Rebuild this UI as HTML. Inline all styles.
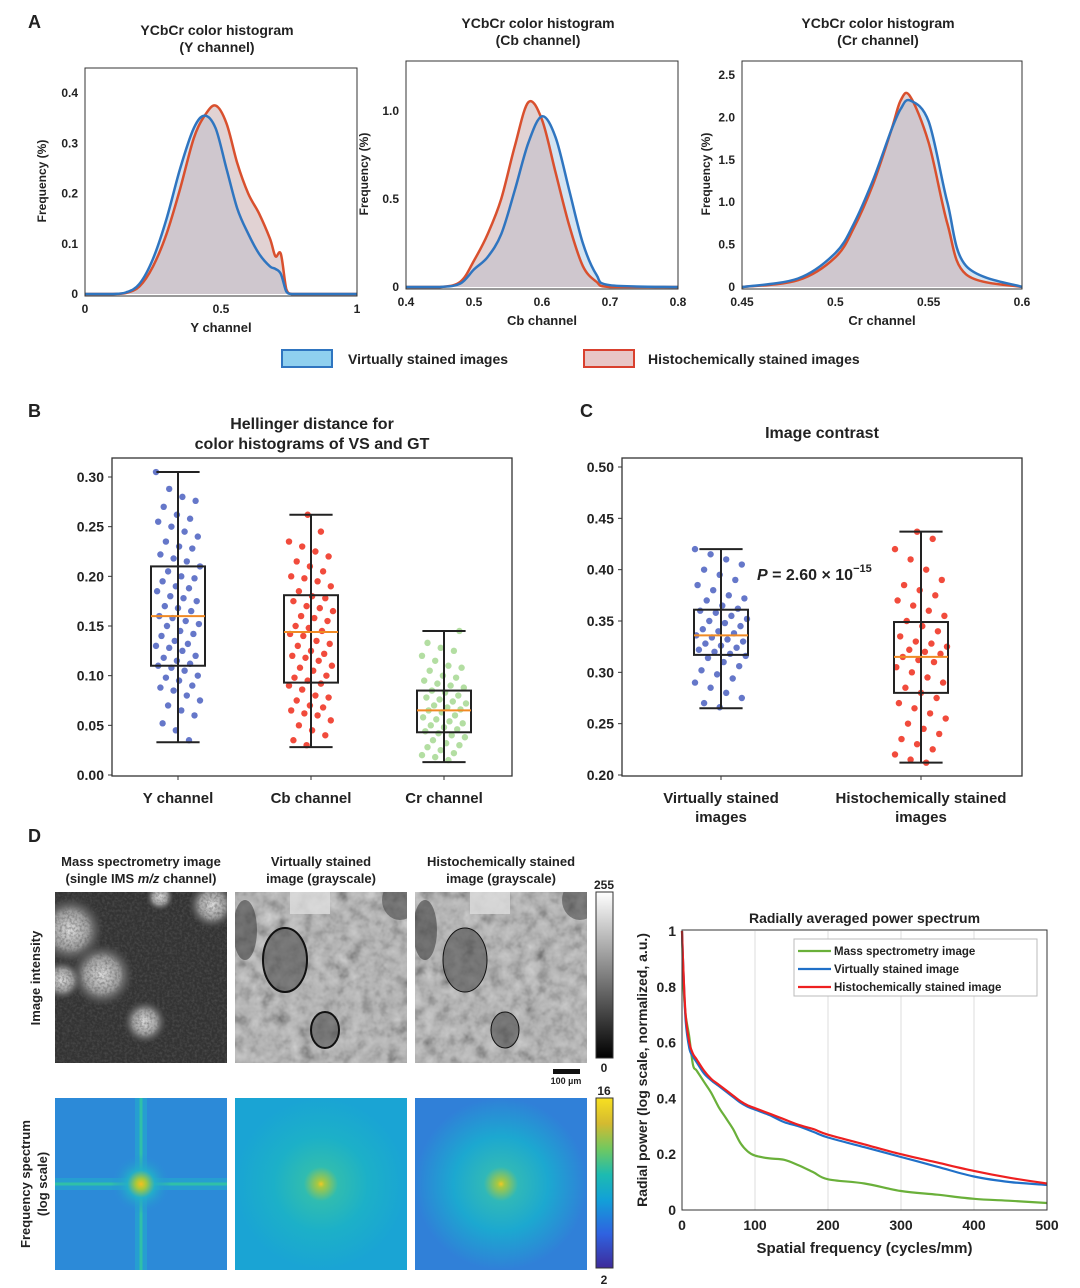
<!DOCTYPE html>
<html><head><meta charset="utf-8"><style>
body{margin:0;background:#fff;}
svg{display:block;font-family:"Liberation Sans",Arial,sans-serif;}
text{font-weight:bold;fill:#222;}
</style></head><body>
<svg id="fig" width="1080" height="1288" viewBox="0 0 1080 1288" xmlns="http://www.w3.org/2000/svg">
<defs>
<filter id="noiseMS" x="0" y="0" width="100%" height="100%"><feTurbulence type="fractalNoise" baseFrequency="0.4" numOctaves="2" seed="3"/><feColorMatrix type="matrix" values="0 0 0 0 0.1 0 0 0 0 0.1 0 0 0 0 0.1 1.2 0 0 0 -0.45"/></filter>
<filter id="tissue" x="0" y="0" width="100%" height="100%"><feTurbulence type="fractalNoise" baseFrequency="0.08" numOctaves="3" seed="7"/><feColorMatrix type="matrix" values="0.33 0.33 0.33 0 0 0.33 0.33 0.33 0 0 0.33 0.33 0.33 0 0 0 0 0 0 1"/><feComponentTransfer><feFuncR type="table" tableValues="0.0 0.2 0.45 0.62 0.8"/><feFuncG type="table" tableValues="0.0 0.2 0.45 0.62 0.8"/><feFuncB type="table" tableValues="0.0 0.2 0.45 0.62 0.8"/></feComponentTransfer></filter>
<radialGradient id="blob"><stop offset="0" stop-color="#e0e0e0"/><stop offset="0.55" stop-color="#b0b0b0" stop-opacity="0.85"/><stop offset="1" stop-color="#555" stop-opacity="0"/></radialGradient>
<radialGradient id="fft1" r="0.5"><stop offset="0" stop-color="#f4c020"/><stop offset="0.06" stop-color="#a8c83a"/><stop offset="0.16" stop-color="#22b0c8" stop-opacity="0.9"/><stop offset="0.35" stop-color="#2a8ad8" stop-opacity="0"/></radialGradient>
<radialGradient id="fft2"><stop offset="0" stop-color="#f0c828"/><stop offset="0.04" stop-color="#a8c840"/><stop offset="0.2" stop-color="#30bcb0"/><stop offset="0.55" stop-color="#1cb0c8"/><stop offset="1" stop-color="#1aa4d4"/></radialGradient>
<radialGradient id="fft3"><stop offset="0" stop-color="#f0c828"/><stop offset="0.04" stop-color="#a8c840"/><stop offset="0.2" stop-color="#30b8b8"/><stop offset="0.55" stop-color="#1ca8d0"/><stop offset="1" stop-color="#3080d8"/></radialGradient>
<linearGradient id="grayBar" x1="0" y1="1" x2="0" y2="0"><stop offset="0" stop-color="#000"/><stop offset="1" stop-color="#fff"/></linearGradient>
<linearGradient id="parula" x1="0" y1="1" x2="0" y2="0"><stop offset="0" stop-color="#3e2b9a"/><stop offset="0.2" stop-color="#2f62e0"/><stop offset="0.4" stop-color="#12a0d8"/><stop offset="0.55" stop-color="#1dbbb0"/><stop offset="0.7" stop-color="#70c860"/><stop offset="0.85" stop-color="#d4ba30"/><stop offset="1" stop-color="#f8e020"/></linearGradient>
<clipPath id="clip0"><rect x="55" y="892" width="172" height="171"/></clipPath>
<clipPath id="clip1"><rect x="235" y="892" width="172" height="171"/></clipPath>
<clipPath id="clip2"><rect x="415" y="892" width="172" height="171"/></clipPath>
</defs>
<g id="root"></g>
</svg>
<script>
// ---------- Panel A data ----------
const yX = [0,0.1,0.15,0.2,0.25,0.3,0.35,0.4,0.44,0.48,0.52,0.56,0.6,0.64,0.68,0.7,0.72,0.74,0.76,0.8,1];
const yVS = [0,0,0.003,0.02,0.07,0.15,0.25,0.33,0.355,0.33,0.25,0.17,0.12,0.08,0.055,0.05,0.04,0.005,0,0,0];
const yHC = [0,0,0.002,0.015,0.055,0.12,0.21,0.31,0.355,0.375,0.34,0.26,0.2,0.16,0.11,0.075,0.08,0.01,0,0,0];
const cbX = [0.4,0.45,0.48,0.5,0.52,0.54,0.56,0.58,0.6,0.62,0.64,0.66,0.68,0.7,0.8];
const cbVS = [0,0,0.02,0.1,0.17,0.3,0.55,0.82,0.97,0.85,0.55,0.25,0.07,0.01,0];
const cbHC = [0,0,0.03,0.15,0.3,0.5,0.8,1.05,0.95,0.65,0.35,0.12,0.03,0,0];
const crX = [0.45,0.48,0.5,0.51,0.52,0.53,0.535,0.54,0.55,0.56,0.57,0.6];
const crVS = [0,0.1,0.4,0.75,1.25,1.85,2.1,2.2,1.95,1.0,0.25,0];
const crHC = [0,0.08,0.35,0.7,1.2,1.85,2.2,2.25,1.7,0.75,0.15,0];
const yXTicks = [0,0.5,1], yXLabels = ["0","0.5","1"];
const yYTicks = [0,0.1,0.2,0.3,0.4], yYLabels = ["0","0.1","0.2","0.3","0.4"];
const cbXTicks = [0.4,0.5,0.6,0.7,0.8], cbXLabels = ["0.4","0.5","0.6","0.7","0.8"];
const cbYTicks = [0,0.5,1.0], cbYLabels = ["0","0.5","1.0"];
const crXTicks = [0.45,0.5,0.55,0.6], crXLabels = ["0.45","0.5","0.55","0.6"];
const crYTicks = [0,0.5,1.0,1.5,2.0,2.5], crYLabels = ["0","0.5","1.0","1.5","2.0","2.5"];
// ---------- Panel B data ----------
const bCats = ["Y channel","Cb channel","Cr channel"];
const bYvals = [0.305,0.288,0.28,0.276,0.27,0.262,0.258,0.255,0.25,0.245,0.24,0.235,0.23,0.228,0.222,0.218,0.215,0.21,0.205,0.2,0.198,0.195,0.19,0.188,0.185,0.18,0.178,0.175,0.17,0.168,0.165,0.16,0.158,0.155,0.152,0.15,0.145,0.142,0.14,0.135,0.132,0.13,0.128,0.125,0.12,0.118,0.115,0.112,0.11,0.108,0.105,0.1,0.098,0.095,0.09,0.088,0.085,0.08,0.075,0.07,0.065,0.06,0.052,0.045,0.035];
const bCbvals = [0.262,0.245,0.235,0.23,0.225,0.22,0.215,0.21,0.205,0.2,0.198,0.195,0.19,0.185,0.18,0.178,0.175,0.17,0.168,0.165,0.16,0.158,0.155,0.15,0.148,0.145,0.142,0.14,0.135,0.132,0.13,0.125,0.122,0.12,0.118,0.115,0.11,0.108,0.105,0.1,0.098,0.095,0.092,0.09,0.086,0.08,0.078,0.075,0.07,0.068,0.065,0.062,0.06,0.055,0.05,0.045,0.04,0.035,0.03];
const bCrvals = [0.145,0.133,0.128,0.125,0.12,0.115,0.11,0.108,0.105,0.1,0.098,0.095,0.092,0.09,0.088,0.085,0.083,0.08,0.078,0.076,0.074,0.072,0.07,0.068,0.066,0.065,0.063,0.06,0.058,0.056,0.054,0.052,0.05,0.048,0.046,0.044,0.042,0.04,0.038,0.035,0.032,0.03,0.028,0.025,0.022,0.02,0.018,0.015];
const bStats = [[0.033,0.11,0.16,0.21,0.305],[0.028,0.093,0.144,0.181,0.262],[0.013,0.043,0.065,0.085,0.145]];
const bTicks = [0,0.05,0.10,0.15,0.20,0.25,0.30];
// ---------- Panel C data ----------
const cCats = [["Virtually stained","images"],["Histochemically stained","images"]];
const cVSvals = [0.42,0.415,0.41,0.405,0.4,0.395,0.39,0.385,0.38,0.375,0.372,0.37,0.365,0.362,0.36,0.358,0.355,0.352,0.35,0.348,0.345,0.342,0.34,0.338,0.336,0.334,0.332,0.33,0.328,0.326,0.324,0.322,0.32,0.318,0.316,0.314,0.31,0.306,0.302,0.298,0.294,0.29,0.285,0.28,0.275,0.27,0.266];
const cHCvals = [0.437,0.43,0.42,0.41,0.4,0.39,0.385,0.38,0.375,0.37,0.365,0.36,0.355,0.35,0.345,0.34,0.335,0.33,0.328,0.325,0.322,0.32,0.318,0.315,0.312,0.31,0.305,0.3,0.295,0.29,0.285,0.28,0.275,0.27,0.265,0.26,0.255,0.25,0.245,0.24,0.235,0.23,0.225,0.22,0.215,0.212];
const cStats = [[0.265,0.317,0.336,0.361,0.42],[0.212,0.28,0.315,0.349,0.437]];
const cTicks = [0.20,0.25,0.30,0.35,0.40,0.45,0.50];
// ---------- Panel D spectrum data ----------
const dX = [0,2,5,10,15,20,30,40,50,60,70,80,90,100,120,140,160,180,200,250,300,350,400,450,500];
const dHC = [1,0.85,0.7,0.6,0.56,0.54,0.5,0.47,0.45,0.43,0.41,0.39,0.375,0.365,0.345,0.325,0.305,0.29,0.27,0.235,0.2,0.17,0.14,0.115,0.095];
const dVS = [1,0.85,0.68,0.58,0.55,0.53,0.49,0.465,0.445,0.425,0.405,0.385,0.37,0.36,0.34,0.315,0.3,0.28,0.26,0.225,0.19,0.155,0.12,0.1,0.09];
const dMS = [1,0.8,0.7,0.62,0.52,0.5,0.46,0.42,0.37,0.33,0.29,0.24,0.21,0.195,0.185,0.18,0.16,0.135,0.11,0.095,0.068,0.055,0.04,0.033,0.025];
const dXTicks = [0,100,200,300,400,500], dYTicks = [0,0.2,0.4,0.6,0.8,1];

const NS="http://www.w3.org/2000/svg";
const root=document.getElementById('root');
function el(tag,attrs,parent,txt){const e=document.createElementNS(NS,tag);for(const k in attrs)e.setAttribute(k,attrs[k]);if(txt!==undefined)e.textContent=txt;(parent||root).appendChild(e);return e;}
function lin(d0,d1,r0,r1){return v=>r0+(v-d0)/(d1-d0)*(r1-r0);}
function smooth(pts,ymaxPix){
  let d='M'+pts[0][0].toFixed(1)+','+pts[0][1].toFixed(1);
  for(let i=0;i<pts.length-1;i++){
    const p0=pts[Math.max(0,i-1)],p1=pts[i],p2=pts[i+1],p3=pts[Math.min(pts.length-1,i+2)];
    let c1x=p1[0]+(p2[0]-p0[0])/6,c1y=p1[1]+(p2[1]-p0[1])/6,c2x=p2[0]-(p3[0]-p1[0])/6,c2y=p2[1]-(p3[1]-p1[1])/6;
    if(ymaxPix!==undefined){c1y=Math.min(c1y,ymaxPix);c2y=Math.min(c2y,ymaxPix);}
    d+='C'+c1x.toFixed(1)+','+c1y.toFixed(1)+' '+c2x.toFixed(1)+','+c2y.toFixed(1)+' '+p2[0].toFixed(1)+','+p2[1].toFixed(1);
  }
  return d;
}

[["A",28,28],["B",28,417],["C",580,417],["D",28,842]].forEach(p=>{const t=el('text',{x:p[1],y:p[2],'font-size':18},root,p[0]);

});

// ---------- Panel A ----------
function histPlot(cfg){
  const g=el('g',{});
  
  
  const sx=lin(cfg.xd[0],cfg.xd[1],cfg.x0,cfg.x1), sy=lin(0,cfg.ymax,cfg.yb,cfg.ytop);
  function path(xs,ys,close){const pts=xs.map((x,i)=>[sx(x),sy(ys[i])]);let d=smooth(pts,cfg.yb);if(close)d+='L'+sx(xs[xs.length-1])+','+sy(0)+'L'+sx(xs[0])+','+sy(0)+'Z';return d;}
  const fv=el('path',{d:path(cfg.xs,cfg.vs,true),fill:'rgba(175,205,232,0.55)'},g);
  
  
  const fh=el('path',{d:path(cfg.xs,cfg.hc,true),fill:'rgba(205,180,182,0.6)'},g);
  
  
  const lh=el('path',{d:path(cfg.xs,cfg.hc,false),fill:'none',stroke:'#d9502e','stroke-width':2.5,'stroke-linejoin':'round'},g);
  
  
  const lv=el('path',{d:path(cfg.xs,cfg.vs,false),fill:'none',stroke:'#2f75c0','stroke-width':2.5,'stroke-linejoin':'round'},g);
  
  
  const fr=el('rect',{x:cfg.x0,y:cfg.ftop,width:cfg.x1-cfg.x0,height:cfg.yb+2-cfg.ftop,fill:'none',stroke:'#333','stroke-width':1},g);
  
  
  cfg.xt.forEach((v,i)=>{const t=el('text',{x:sx(v),y:cfg.yb+19,'font-size':12,'text-anchor':'middle'},g,cfg.xl[i]);
    
    });
  cfg.yt.forEach((v,i)=>{const t=el('text',{x:cfg.x0-7,y:sy(v)+4,'font-size':12,'text-anchor':'end'},g,cfg.yl[i]);
    
    });
  const xl=el('text',{x:(cfg.x0+cfg.x1)/2,y:cfg.yb+38,'font-size':13,'text-anchor':'middle'},g,cfg.xlabel);
  
  
  const yl=el('text',{x:0,y:0,'font-size':12,'text-anchor':'middle',transform:`translate(${cfg.ylx},${(cfg.ftop+cfg.yb)/2}) rotate(-90)`},g,'Frequency (%)');
  
  
  const t1=el('text',{x:(cfg.x0+cfg.x1)/2-4,y:cfg.ftop-33,'font-size':14,'text-anchor':'middle'},g,'YCbCr color histogram');
  
  
  const t2=el('text',{x:(cfg.x0+cfg.x1)/2-4,y:cfg.ftop-16,'font-size':14,'text-anchor':'middle'},g,cfg.sub);
  
  
}
histPlot({name:'y-channel-histogram',x0:85,x1:357,xd:[0,1],ftop:68,yb:294,ytop:93,ymax:0.4,xs:yX,vs:yVS,hc:yHC,xt:yXTicks,xl:yXLabels,yt:yYTicks,yl:yYLabels,xlabel:'Y channel',sub:'(Y channel)',ylx:46});
histPlot({name:'cb-channel-histogram',x0:406,x1:678,xd:[0.4,0.8],ftop:61,yb:287,ytop:111,ymax:1.0,xs:cbX,vs:cbVS,hc:cbHC,xt:cbXTicks,xl:cbXLabels,yt:cbYTicks,yl:cbYLabels,xlabel:'Cb channel',sub:'(Cb channel)',ylx:368});
histPlot({name:'cr-channel-histogram',x0:742,x1:1022,xd:[0.45,0.6],ftop:61,yb:287,ytop:75,ymax:2.5,xs:crX,vs:crVS,hc:crHC,xt:crXTicks,xl:crXLabels,yt:crYTicks,yl:crYLabels,xlabel:'Cr channel',sub:'(Cr channel)',ylx:710});
(function(){const lg=el('g',{});


const r1=el('rect',{x:282,y:350,width:50,height:17,fill:'#8fd0ef',stroke:'#2f75c0','stroke-width':2},lg);


const a=el('text',{x:348,y:364,'font-size':14},lg,'Virtually stained images');


const r2=el('rect',{x:584,y:350,width:50,height:17,fill:'#e8c6c6',stroke:'#d9402e','stroke-width':2},lg);


const b=el('text',{x:648,y:364,'font-size':14},lg,'Histochemically stained images');

})();

// ---------- box plots ----------
function boxPlot(cfg){
  const g=el('g',{});
  
  
  const sy=lin(cfg.yd[0],cfg.yd[1],cfg.yb,cfg.ytop);
  const fr=el('rect',{x:cfg.x0,y:cfg.ftop,width:cfg.x1-cfg.x0,height:cfg.fb-cfg.ftop,fill:'none',stroke:'#333','stroke-width':1.3},g);
  
  
  cfg.ticks.forEach(v=>{const tk=el('line',{x1:cfg.x0-4,x2:cfg.x0,y1:sy(v),y2:sy(v),stroke:'#333'},g);
    
    
    const t=el('text',{x:cfg.x0-8,y:sy(v)+5,'font-size':14,'text-anchor':'end'},g,v.toFixed(2));
    
    });
  cfg.groups.forEach((vals,gi)=>{
    const cx=cfg.cx[gi], st=cfg.stats[gi], hw=cfg.hw;
    vals.forEach((v,i)=>{const j=(((i*53+gi*17)%41)-20)/20*cfg.jit;
      const c=el('circle',{cx:cx+j,cy:sy(v),r:3.2,fill:cfg.colors[gi],'fill-opacity':0.85},g);
      
      });
    const wl=el('line',{x1:cx,x2:cx,y1:sy(st[0]),y2:sy(st[4]),stroke:'#222','stroke-width':2},g);
    
    
    [st[0],st[4]].forEach(w=>{const c=el('line',{x1:cx-hw*0.8,x2:cx+hw*0.8,y1:sy(w),y2:sy(w),stroke:'#222','stroke-width':2},g);
      
      });
    const bx=el('rect',{x:cx-hw,y:sy(st[3]),width:2*hw,height:sy(st[1])-sy(st[3]),fill:'none',stroke:'#222','stroke-width':2},g);
    
    
    const md=el('line',{x1:cx-hw,x2:cx+hw,y1:sy(st[2]),y2:sy(st[2]),stroke:'#f08a24','stroke-width':2},g);
    
    
    const tk=el('line',{x1:cx,x2:cx,y1:cfg.fb,y2:cfg.fb+4,stroke:'#333'},g);
    
    
    const lab=[].concat(cfg.cats[gi]);
    lab.forEach((s,k)=>{const t=el('text',{x:cx,y:cfg.fb+27+k*19,'font-size':15,'text-anchor':'middle'},g,s);
      
      });
  });
  cfg.title.forEach((s,k)=>{const t=el('text',{x:(cfg.x0+cfg.x1)/2,y:cfg.ty+k*20,'font-size':16,'text-anchor':'middle'},g,s);
    
    });
}
boxPlot({name:'hellinger-boxplot',x0:112,x1:512,ftop:458,fb:776,yd:[0,0.3],yb:775,ytop:477,ticks:bTicks,cx:[178,311,444],hw:27,jit:22,
  groups:[bYvals,bCbvals,bCrvals],stats:bStats,colors:['#4a5fc0','#ee2c1a','#a6d892'],cats:bCats,title:['Hellinger distance for','color histograms of VS and GT'],ty:429});
boxPlot({name:'contrast-boxplot',x0:622,x1:1022,ftop:458,fb:776,yd:[0.2,0.5],yb:775,ytop:467,ticks:cTicks,cx:[721,921],hw:27,jit:26,
  groups:[cVSvals,cHCvals],stats:cStats,colors:['#4a5fc0','#ee2c1a'],cats:cCats,title:['Image contrast'],ty:438});
(function(){const t=el('text',{x:757,y:580,'font-size':16});


t.innerHTML='<tspan font-style="italic">P</tspan> = 2.60 × 10<tspan dy="-8" font-size="11">−15</tspan>';})();

// ---------- Panel D images ----------
(function(){
  const g=el('g',{});
  
  
  const cols=[55,235,415], w=172;
  const titles=[['Mass spectrometry image',null],['Virtually stained','image (grayscale)'],['Histochemically stained','image (grayscale)']];
  titles.forEach((t,i)=>{
    const e1=el('text',{x:cols[i]+w/2,y:866,'font-size':13,'text-anchor':'middle'},g,t[0]);
    
    
    const e2=el('text',{x:cols[i]+w/2,y:883,'font-size':13,'text-anchor':'middle'},g);
    
    
    if(t[1])e2.textContent=t[1]; else e2.innerHTML='(single IMS <tspan font-style="italic">m/z</tspan> channel)';
  });
  const ms=el('g',{'clip-path':'url(#clip0)'},g);
  
  
  el('rect',{x:55,y:892,width:w,height:171,fill:'#333'},ms);
  [[70,930,34],[102,975,32],[145,1022,22],[212,905,24],[160,897,14],[62,980,20]].forEach(b=>el('circle',{cx:b[0],cy:b[1],r:b[2],fill:'url(#blob)'},ms));
  el('rect',{x:55,y:892,width:w,height:171,filter:'url(#noiseMS)'},ms);
  [[235,'vs-grayscale-image','url(#clip1)'],[415,'hc-grayscale-image','url(#clip2)']].forEach(p=>{
    const gi=el('g',{'clip-path':p[2]},g);
    
    
    el('rect',{x:p[0],y:892,width:w,height:171,fill:'#999',filter:'url(#tissue)'},gi);
    el('ellipse',{cx:p[0]+50,cy:960,rx:22,ry:32,fill:'#444','fill-opacity':0.55,stroke:'#111','stroke-width':p[0]==235?2:1},gi);
    el('ellipse',{cx:p[0]+90,cy:1030,rx:14,ry:18,fill:'#444','fill-opacity':0.55,stroke:'#111','stroke-width':p[0]==235?2:1},gi);
    el('ellipse',{cx:p[0]+10,cy:930,rx:12,ry:30,fill:'#333','fill-opacity':0.55},gi);
    el('ellipse',{cx:p[0]+165,cy:900,rx:18,ry:20,fill:'#333','fill-opacity':0.5},gi);
    el('rect',{x:p[0]+55,y:892,width:40,height:22,fill:'#ddd','fill-opacity':0.8},gi);
  });
  const fft=['fft1','fft2','fft3'];
  cols.forEach((x,i)=>{
    const gf=el('g',{},g);
    
    
    if(i===0){el('rect',{x:x,y:1098,width:w,height:172,fill:'#2c8ad8'},gf);
      el('rect',{x:x+w/2-6,y:1098,width:12,height:172,fill:'#26a2cf','fill-opacity':0.8},gf);
      el('rect',{x:x,y:1184-6,width:w,height:12,fill:'#26a2cf','fill-opacity':0.8},gf);
      el('rect',{x:x+w/2-1.5,y:1098,width:3,height:172,fill:'#30c0a8'},gf);
      el('rect',{x:x,y:1184-1.5,width:w,height:3,fill:'#30c0a8'},gf);
      el('rect',{x:x,y:1098,width:w,height:172,fill:'url(#fft1)'},gf);}
    else el('rect',{x:x,y:1098,width:w,height:172,fill:'url(#'+fft[i]+')'},gf);
  });
  const cb1=el('rect',{x:596,y:892,width:17,height:166,fill:'url(#grayBar)',stroke:'#333'},g);
  
  
  const cb2=el('rect',{x:596,y:1098,width:17,height:170,fill:'url(#parula)',stroke:'#333'},g);
  
  
  [['255',604,889],['0',604,1072],['16',604,1095],['2',604,1284]].forEach(l=>{const e=el('text',{x:l[1],y:l[2],'font-size':12,'text-anchor':'middle','font-weight':'normal'},g,l[0]);
    
    });
  const sb=el('rect',{x:553,y:1069,width:27,height:5,fill:'#111'},g);
  
  
  const st=el('text',{x:566,y:1084,'font-size':9,'text-anchor':'middle','font-weight':'normal'},g,'100 µm');
  
  
  const r1=el('text',{x:0,y:0,'font-size':13,'text-anchor':'middle',transform:'translate(40,978) rotate(-90)'},g,'Image intensity');
  
  
  const r2=el('text',{x:0,y:0,'font-size':13,'text-anchor':'middle',transform:'translate(30,1184) rotate(-90)'},g,'Frequency spectrum');
  
  
  const r3=el('text',{x:0,y:0,'font-size':13,'text-anchor':'middle',transform:'translate(47,1184) rotate(-90)'},g,'(log scale)');
  
  
})();

// ---------- Panel D power spectrum ----------
(function(){
  const g=el('g',{});
  
  
  const x0=682,x1=1047,yt=931,yb=1210;
  const sx=lin(0,500,x0,x1), sy=lin(0,1,yb,yt);
  dXTicks.forEach(v=>{if(v>0&&v<500){const gl=el('line',{x1:sx(v),x2:sx(v),y1:yt,y2:yb,stroke:'#ddd'},g);
    
    }
    const t=el('text',{x:sx(v),y:yb+20,'font-size':14,'text-anchor':'middle'},g,String(v));
    
    });
  dYTicks.forEach(v=>{const t=el('text',{x:x0-6,y:sy(v)+5,'font-size':14,'text-anchor':'end'},g,String(v));
    
    });
  function line(ys,col,name){const pts=dX.map((x,i)=>[sx(x),sy(ys[i])]);
    const p=el('path',{d:smooth(pts),fill:'none',stroke:col,'stroke-width':2.2},g);
    
    }
  line(dMS,'#6ab03a','mass-spec-line');
  line(dVS,'#2070c8','virtual-line');
  line(dHC,'#ee2020','histochemical-line');
  const fr=el('rect',{x:x0,y:yt-1,width:x1-x0,height:yb-yt+1,fill:'none',stroke:'#333'},g);
  
  
  const lg=el('g',{},g);
  
  
  el('rect',{x:794,y:939,width:243,height:57,fill:'#fff',stroke:'#bbb'},lg);
  [['Mass spectrometry image','#6ab03a'],['Virtually stained image','#2070c8'],['Histochemically stained image','#ee2020']].forEach((e,i)=>{
    el('line',{x1:798,x2:831,y1:951+i*18,y2:951+i*18,stroke:e[1],'stroke-width':2.2},lg);
    const t=el('text',{x:834,y:955+i*18,'font-size':11.5},lg,e[0]);
    
    });
  const tt=el('text',{x:(x0+x1)/2,y:923,'font-size':14,'text-anchor':'middle'},g,'Radially averaged power spectrum');
  
  
  const xl=el('text',{x:(x0+x1)/2,y:1253,'font-size':15,'text-anchor':'middle'},g,'Spatial frequency (cycles/mm)');
  
  
  const yl=el('text',{x:0,y:0,'font-size':14,'text-anchor':'middle',transform:'translate(647,1070) rotate(-90)'},g,'Radial power (log scale, normalized, a.u.)');
  
  
})();
</script>
</body></html>
